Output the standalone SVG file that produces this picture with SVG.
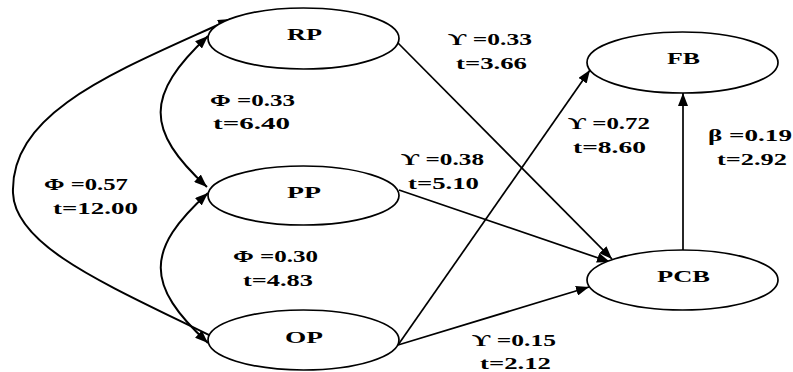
<svg xmlns="http://www.w3.org/2000/svg" width="793" height="372" viewBox="0 0 793 372">
<style>
.node ellipse{fill:#fff;stroke:#000;stroke-width:1.7}
text{font-family:"Liberation Serif","Times New Roman",serif;font-weight:bold;font-size:17px;fill:#000}
.edge{fill:none;stroke:#000;stroke-width:1.7}
.curve{fill:none;stroke:#000;stroke-width:2}
</style>
<defs>
<marker id="ah" markerUnits="userSpaceOnUse" markerWidth="13" markerHeight="10" refX="13" refY="5" orient="auto-start-reverse">
<path d="M0,0 L13,5 L0,10 z" fill="#000"/>
</marker>
</defs>
<g id="connectors">
<path class="edge" d="M398,43 L612,259" marker-end="url(#ah)"/>
<path class="edge" d="M399,190 L610,262" marker-end="url(#ah)"/>
<path class="edge" d="M398,345 L589,287" marker-end="url(#ah)"/>
<path class="edge" d="M398,345 L590,70" marker-end="url(#ah)"/>
<path class="edge" d="M683,250 L683,93" marker-end="url(#ah)"/>
<path class="curve" d="M208,36 C145,95 145,130 207,187" marker-start="url(#ah)" marker-end="url(#ah)"/>
<path class="curve" d="M208,193 C145,250 145,285 208,343" marker-start="url(#ah)" marker-end="url(#ah)"/>
<path class="curve" d="M231,19 C120,70 10,110 13,193 C15,250 120,290 231,346" marker-start="url(#ah)" marker-end="url(#ah)"/>
</g>
<g id="RP" class="node"><ellipse cx="303.5" cy="38.5" rx="95.5" ry="30.5"/><text x="287" y="40" textLength="35" lengthAdjust="spacingAndGlyphs">RP</text></g>
<g id="PP" class="node"><ellipse cx="303.5" cy="195.5" rx="95.5" ry="29.5"/><text x="287" y="198" textLength="34" lengthAdjust="spacingAndGlyphs">PP</text></g>
<g id="OP" class="node"><ellipse cx="303.5" cy="340" rx="95.5" ry="30"/><text x="285" y="343" textLength="38" lengthAdjust="spacingAndGlyphs">OP</text></g>
<g id="FB" class="node"><ellipse cx="682.5" cy="62.5" rx="95.5" ry="30.5"/><text x="667" y="64" textLength="33" lengthAdjust="spacingAndGlyphs">FB</text></g>
<g id="PCB" class="node"><ellipse cx="682.5" cy="280" rx="95.5" ry="30"/><text x="657" y="282" textLength="53" lengthAdjust="spacingAndGlyphs">PCB</text></g>
<g id="labels">
<text x="210" y="106" textLength="85" lengthAdjust="spacingAndGlyphs">Φ =0.33</text>
<text x="213" y="129" textLength="77" lengthAdjust="spacingAndGlyphs">t=6.40</text>
<text x="44" y="190" textLength="84" lengthAdjust="spacingAndGlyphs">Φ =0.57</text>
<text x="53" y="214" textLength="85" lengthAdjust="spacingAndGlyphs">t=12.00</text>
<text x="233" y="262" textLength="85" lengthAdjust="spacingAndGlyphs">Φ =0.30</text>
<text x="243" y="286" textLength="70" lengthAdjust="spacingAndGlyphs">t=4.83</text>
<text x="448" y="45" textLength="84" lengthAdjust="spacingAndGlyphs">ϒ =0.33</text>
<text x="456" y="69" textLength="71" lengthAdjust="spacingAndGlyphs">t=3.66</text>
<text x="568" y="129" textLength="82" lengthAdjust="spacingAndGlyphs">ϒ =0.72</text>
<text x="573" y="153" textLength="73" lengthAdjust="spacingAndGlyphs">t=8.60</text>
<text x="708" y="141" textLength="84" lengthAdjust="spacingAndGlyphs">β =0.19</text>
<text x="717" y="165" textLength="70" lengthAdjust="spacingAndGlyphs">t=2.92</text>
<text x="401" y="165" textLength="83" lengthAdjust="spacingAndGlyphs">ϒ =0.38</text>
<text x="408" y="189" textLength="71" lengthAdjust="spacingAndGlyphs">t=5.10</text>
<text x="472" y="346" textLength="84" lengthAdjust="spacingAndGlyphs">ϒ =0.15</text>
<text x="480" y="369" textLength="71" lengthAdjust="spacingAndGlyphs">t=2.12</text>
</g>
</svg>
